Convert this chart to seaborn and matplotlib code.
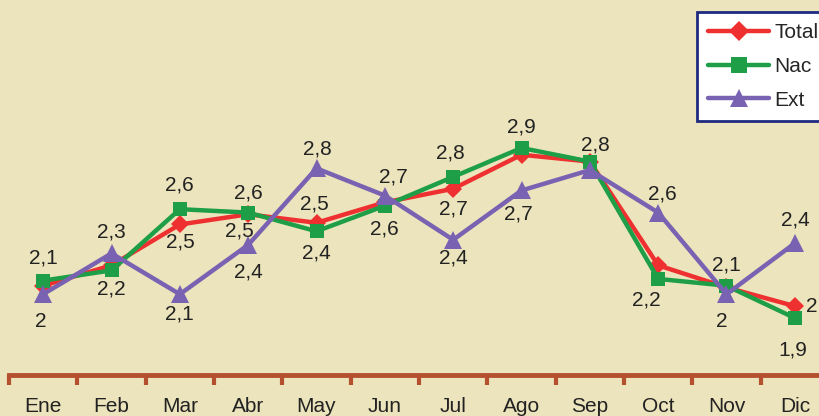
import matplotlib
matplotlib.use("Agg")
import matplotlib.pyplot as plt
import pandas as pd
import seaborn as sns
from matplotlib.lines import Line2D

# ── Data ──────────────────────────────────────────────────────────────────────
months = ["Ene", "Feb", "Mar", "Abr", "May", "Jun",
          "Jul", "Ago", "Sep", "Oct", "Nov", "Dic"]
total = [2.09, 2.21, 2.45, 2.51, 2.46, 2.58, 2.66, 2.86, 2.82, 2.21, 2.08, 1.97]
nac   = [2.12, 2.18, 2.54, 2.52, 2.41, 2.56, 2.73, 2.90, 2.82, 2.13, 2.09, 1.90]
ext   = [2.04, 2.28, 2.04, 2.33, 2.78, 2.62, 2.36, 2.65, 2.77, 2.52, 2.04, 2.34]

# data labels as printed on the chart: (series, month index, text)
lab_series = ["Nac", "Ext", "Ext", "Nac", "Nac", "Total", "Ext", "Nac", "Total",
              "Ext", "Ext", "Total", "Nac", "Ext", "Nac", "Nac", "Total", "Ext",
              "Nac", "Ext", "Nac", "Ext", "Nac", "Nac", "Ext", "Ext", "Total", "Nac"]
lab_month = [0, 0, 1, 1, 2, 2, 2, 3, 3, 3, 4, 4, 4, 5, 5, 6, 6, 6,
             7, 7, 8, 9, 9, 10, 10, 11, 11, 11]
lab_text = ["2,1", "2", "2,3", "2,2", "2,6", "2,5", "2,1", "2,6", "2,5",
            "2,4", "2,8", "2,5", "2,4", "2,7", "2,6", "2,8", "2,7", "2,4",
            "2,9", "2,7", "2,8", "2,6", "2,2", "2,1", "2", "2,4", "2", "1,9"]
# label placement (pixels from the marker)
lab_dx = [0, -2, 0, 0, 0, 1, 0, 0, -9, 0, 1, -2, 0, 9, 0, -3, 0, 0,
          0, -3, 6, 4, -12, 0, -5, 1, 17, -2]
lab_dy = [23, -27, 21, -19, 24, -18, -20, 20, -17, -27, 19, 19, -22, 19, -23,
          24, -20, -18, 21, -24, 17, 19, -21, 21, -27, 23, 0, -32]

series = {"Total": total, "Nac": nac, "Ext": ext}
df = pd.concat([pd.DataFrame({"x": range(len(months)), "value": v, "serie": k})
                for k, v in series.items()], ignore_index=True)

# ── Style ─────────────────────────────────────────────────────────────────────
BG     = "#ece4bc"
AXIS   = "#b5502e"
TEXT   = "#222222"
COLORS = {"Total": "#ee3030", "Nac": "#1f9e48", "Ext": "#7a62b2"}
MARKER = {"Total": "D", "Nac": "s", "Ext": "^"}
MSIZE  = {"Total": 9.5, "Nac": 10.5, "Ext": 12.5}

sns.set_theme(style="white")
plt.rcParams["font.family"] = ["Liberation Sans", "DejaVu Sans"]

fig = plt.figure(figsize=(8.19, 4.16), dpi=100, facecolor=BG)
ax = fig.add_axes([9 / 819, 41 / 416, 820 / 819, 375 / 416])
ax.set_facecolor(BG)

for name in ["Total", "Nac", "Ext"]:
    sub = df[df["serie"] == name]
    sns.lineplot(data=sub, x="x", y="value", ax=ax, color=COLORS[name],
                 linewidth=3.2, marker=MARKER[name], markersize=MSIZE[name],
                 markeredgewidth=0, legend=False)

for s, m, t, dx, dy in zip(lab_series, lab_month, lab_text, lab_dx, lab_dy):
    ax.annotate(t, (m, series[s][m]), xytext=(dx, dy), textcoords="offset pixels",
                ha="center", va="center", fontsize=15, color=TEXT)

ax.set_xlim(-0.5, 11.5)
ax.set_ylim(1.565, 3.77)
ax.set_xticks(range(len(months)))
ax.set_xticklabels(months, fontsize=15, color=TEXT)
ax.set_xticks([i - 0.5 for i in range(len(months) + 1)], minor=True)
ax.tick_params(axis="x", which="major", length=0, pad=16)
ax.tick_params(axis="x", which="minor", length=7, width=3, color=AXIS,
               direction="out", bottom=True)
ax.set_yticks([])
ax.set_xlabel("")
ax.set_ylabel("")
for side in ["top", "left", "right"]:
    ax.spines[side].set_visible(False)
ax.spines["bottom"].set_color(AXIS)
ax.spines["bottom"].set_linewidth(3.5)

handles = [Line2D([], [], color=COLORS[k], linewidth=3.2, marker=MARKER[k],
                  markersize=MSIZE[k] + 1, markeredgewidth=0) for k in series]
leg = ax.legend(handles, list(series.keys()), loc="upper left",
                bbox_to_anchor=(697 / 819, 1 - 12 / 416),
                bbox_transform=fig.transFigure, fontsize=15, frameon=True,
                fancybox=False, handlelength=2.9, labelspacing=0.7,
                borderpad=0.55, handletextpad=0.25, borderaxespad=0)
leg.get_frame().set_edgecolor("#1d2a80")
leg.get_frame().set_linewidth(2)
leg.get_frame().set_facecolor("white")
leg.get_frame().set_alpha(1)

plt.savefig("out.png", dpi=100, facecolor=BG)
